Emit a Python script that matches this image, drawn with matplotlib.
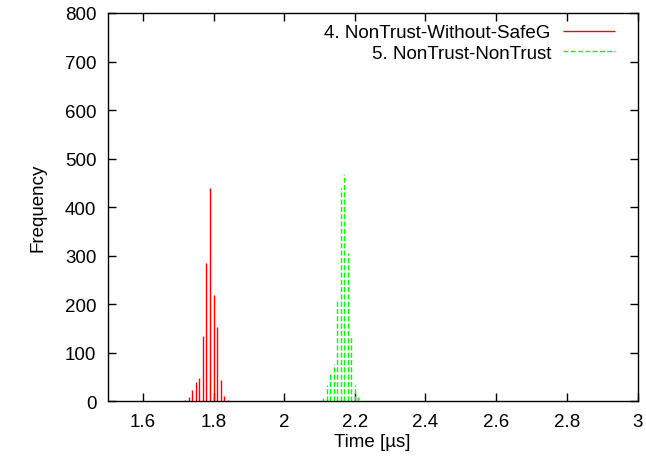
import matplotlib
matplotlib.use("Agg")
from matplotlib import pyplot as plt

plt.rcParams['font.family'] = ['Liberation Sans', 'DejaVu Sans']

# histogram bins (time in us) and counts
red_x = [1.72, 1.73, 1.74, 1.75, 1.76, 1.77, 1.78, 1.79, 1.80, 1.81, 1.82, 1.83, 1.84]
red_y = [2, 9, 23, 39, 49, 134, 285, 439, 219, 153, 43, 11, 2]
green_x = [2.11, 2.12, 2.13, 2.14, 2.15, 2.16, 2.17, 2.18, 2.19, 2.20, 2.21]
green_y = [7, 34, 60, 77, 209, 440, 469, 305, 137, 34, 8]

labels = ["4. NonTrust-Without-SafeG", "5. NonTrust-NonTrust"]
xticks = [1.6, 1.8, 2, 2.2, 2.4, 2.6, 2.8, 3]
xtick_labels = ["1.6", "1.8", "2", "2.2", "2.4", "2.6", "2.8", "3"]
yticks = [0, 100, 200, 300, 400, 500, 600, 700, 800]

W, H = 646, 460
fs = 13.5
fig = plt.figure(figsize=(W / 100, H / 100), dpi=100)
ax = fig.add_axes([107.5 / W, 1 - 402.3 / H, 530 / W, 388.3 / H])

ax.vlines(red_x, 0, red_y, colors='#ff0000', linewidth=1.0, label=labels[0])
ax.vlines(green_x, 0, green_y, colors='#00ff00', linewidth=1.0,
          linestyles=(0, (3.6, 1.65)), label=labels[1])

ax.set_xlim(1.5, 3)
ax.set_ylim(0, 800)
ax.set_xticks(xticks)
ax.set_xticklabels(xtick_labels)
ax.set_yticks(yticks)

for s in ax.spines.values():
    s.set_linewidth(1.0)
ax.tick_params(direction='in', length=5.8, width=1.0, top=True, right=True,
               labelsize=fs)
ax.tick_params(axis='x', pad=8.5)
ax.tick_params(axis='y', pad=8)

ax.set_xlabel("Time [µs]", fontsize=fs)
ax.set_ylabel("Frequency", fontsize=fs)
ax.xaxis.set_label_coords(0.5, -0.082)
ax.yaxis.set_label_coords(-0.116, 0.5)

ax.legend(loc='upper right', bbox_to_anchor=(615 / W, 1 - 25 / H),
          bbox_transform=fig.transFigure, frameon=False, markerfirst=False,
          fontsize=fs, handlelength=2.8, handletextpad=0.62,
          labelspacing=0.2, borderpad=0, borderaxespad=0)

fig.savefig("out.png", dpi=100)
